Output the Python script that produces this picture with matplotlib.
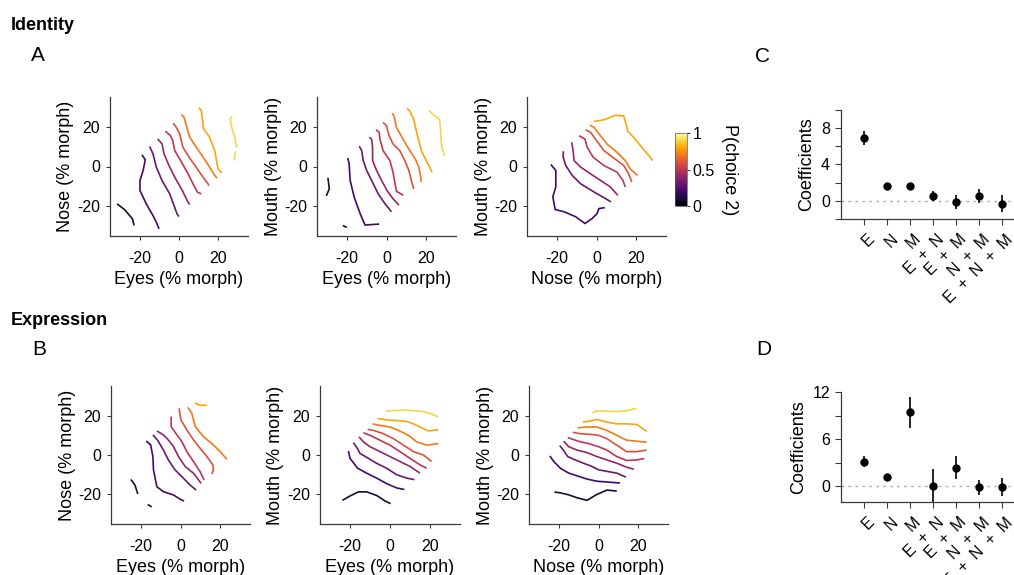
import numpy as np
import matplotlib
matplotlib.use("Agg")
import matplotlib.pyplot as plt
from matplotlib import cm
from matplotlib.colors import Normalize
from matplotlib.transforms import ScaledTranslation

plt.rcParams['font.family'] = ['Liberation Sans', 'DejaVu Sans']
plt.rcParams['axes.linewidth'] = 0.9
plt.rcParams['axes.unicode_minus'] = False

# ---------------- data ----------------
# Identity: Eyes vs Nose
A1_lev = [0.1, 0.2, 0.3, 0.4, 0.5, 0.6, 0.7, 0.8, 0.9, 0.9]
A1_x = [
    [-31.4, -27.5, -23.6, -22.8],
    [-18.8, -17.1, -18.2, -19.8, -19.8, -16.6, -13.2, -11.5, -10.1],
    [-14.9, -13.2, -11.5, -8.6, -4.7, -2.2, -1.0, 0.0],
    [-10.8, -8.6, -7.6, -5.1, -1.7, 1.7, 4.1, 5.4],
    [-6.9, -4.4, -3.2, -2.2, 0.8, 4.6, 7.1, 9.3, 11.3],
    [-3.0, -1.4, 0.3, 2.0, 5.1, 9.3, 12.2, 14.7, 15.2],
    [1.2, 2.5, 3.7, 5.4, 8.8, 12.2, 15.5, 18.1, 19.3],
    [10.1, 11.3, 12.5, 15.5, 18.1, 19.8, 21.8],
    [27.0, 26.0, 26.5, 28.2, 29.4],
    [28.7, 27.9],
]
A1_y = [
    [-18.8, -21.8, -26.4, -29.7],
    [5.9, 3.4, -2.0, -7.1, -12.1, -18.8, -24.7, -28.1, -31.4],
    [10.1, 6.4, -0.3, -7.1, -13.8, -20.5, -23.9, -25.2],
    [13.9, 11.4, 6.4, 0.5, -6.2, -12.1, -17.1, -19.2],
    [17.8, 15.6, 13.1, 8.1, 3.0, -3.7, -8.7, -12.9, -13.8],
    [21.8, 19.8, 16.5, 9.7, 4.7, -1.2, -5.4, -8.7, -9.6],
    [26.1, 24.9, 20.7, 14.8, 9.7, 4.7, -0.3, -4.5, -5.9],
    [29.6, 28.2, 19.0, 14.8, 8.1, -1.2, -3.2],
    [25.2, 24.0, 20.7, 14.8, 9.7],
    [7.7, 3.0],
]

# Identity: Eyes vs Mouth
A2_lev = [0.1, 0.1, 0.2, 0.3, 0.4, 0.5, 0.6, 0.7, 0.8, 0.9]
A2_x = [
    [-29.5, -28.8, -30.3],
    [-22.0, -20.0],
    [-19.5, -18.8, -18.3, -16.3, -13.3, -10.8, -8.3, -3.7],
    [-13.7, -12.5, -11.7, -10.0, -7.5, -4.2, -0.8, 2.5],
    [-8.7, -7.5, -7.0, -7.0, -5.0, -2.5, 0.5, 3.5, 6.3],
    [-5.3, -3.7, -3.3, -1.7, 1.7, 3.3, 4.2, 5.0, 8.5],
    [-1.7, 0.0, 1.3, 3.3, 6.7, 9.2, 11.3, 12.5, 13.7],
    [2.8, 3.8, 5.0, 8.3, 11.7, 14.5, 16.3, 17.2, 17.5],
    [10.3, 11.7, 13.7, 15.0, 17.5, 20.0, 22.5, 23.0],
    [21.3, 23.3, 26.7, 27.2, 27.5, 28.0, 29.3],
]
A2_y = [
    [-5.7, -11.2, -14.8],
    [-29.7, -30.7],
    [4.3, 1.3, -7.0, -15.3, -23.7, -29.5, -29.3, -29.0],
    [10.2, 8.0, 3.0, -2.0, -7.0, -13.7, -18.7, -22.8],
    [14.7, 13.8, 9.7, 3.0, -2.0, -7.0, -12.5, -16.5, -19.5],
    [18.5, 17.2, 13.8, 8.0, 3.0, -3.0, -8.0, -12.5, -14.5],
    [22.2, 20.5, 15.5, 11.3, 8.0, 3.0, -2.0, -7.0, -11.3],
    [26.8, 25.5, 19.7, 13.8, 8.0, 3.8, -0.3, -5.3, -7.8],
    [29.2, 28.0, 23.8, 18.0, 8.0, 3.0, -2.0, -2.8],
    [28.3, 26.3, 23.8, 18.8, 13.0, 8.8, 5.5],
]

# Identity: Nose vs Mouth
A3_lev = [0.2, 0.3, 0.4, 0.5, 0.6, 0.7, 0.8]
A3_x = [
    [-23.0, -20.5, -20.5, -22.0, -20.8, -16.3, -10.5, -5.8, -2.2, 0.3, 1.2, 4.2],
    [-16.7, -16.8, -15.5, -12.2, -8.0, -1.3, 3.7, 7.3],
    [-12.5, -11.8, -11.3, -8.0, -3.0, 2.0, 7.0, 10.7],
    [-8.8, -5.8, -4.7, -1.7, 3.7, 10.3, 13.3, 14.5],
    [-5.5, -3.0, -0.5, 3.7, 8.7, 13.7, 16.2, 17.8],
    [-3.3, -1.3, 2.0, 5.3, 10.3, 14.5, 17.0, 20.7],
    [-1.3, 3.7, 9.5, 13.7, 15.3, 15.8, 18.7, 22.8, 27.0, 28.2],
]
A3_y = [
    [1.0, -2.0, -10.3, -15.3, -21.7, -22.8, -25.3, -28.7, -26.2, -23.7, -21.2, -20.7],
    [7.7, 4.7, 0.5, -4.5, -8.7, -12.8, -15.7, -17.8],
    [12.2, 8.0, 3.0, -0.3, -3.7, -7.0, -10.3, -14.5],
    [15.5, 13.8, 9.7, 4.7, 0.5, -2.8, -7.0, -10.3],
    [18.5, 17.2, 13.8, 8.0, 4.3, 0.5, -3.7, -7.8],
    [20.8, 19.7, 15.5, 11.3, 7.2, 3.0, -1.2, -4.5],
    [22.7, 23.5, 25.8, 25.5, 19.7, 17.7, 14.7, 9.7, 4.7, 3.0],
]

# Expression: Eyes vs Nose
B1_lev = [0.1, 0.1, 0.2, 0.3, 0.4, 0.5, 0.6, 0.7, 0.8]
B1_x = [
    [-25.0, -22.9, -21.5],
    [-16.5, -14.5],
    [-17.3, -15.0, -13.9, -13.6, -11.9, -8.6, -3.5, -0.2, 1.8],
    [-13.9, -11.6, -8.6, -6.1, -2.7, 0.7, 4.9, 7.9],
    [-11.9, -8.6, -6.1, -3.5, -1.0, 2.4, 6.6, 10.4],
    [-4.7, -4.7, -1.8, 0.7, 3.2, 6.6, 9.9, 11.9],
    [-0.7, 0.2, 3.2, 6.6, 9.9, 13.3, 16.3, 16.6, 15.8],
    [3.7, 5.7, 7.4, 11.6, 16.6, 20.8, 23.4],
    [7.4, 9.9, 13.3],
]
B1_y = [
    [-12.4, -15.3, -19.8],
    [-25.1, -26.3],
    [7.1, 5.1, -0.8, -7.6, -16.1, -18.6, -20.3, -22.4, -23.4],
    [10.2, 7.6, 2.5, -2.5, -7.6, -11.0, -15.3, -17.8],
    [12.2, 10.2, 7.6, 4.2, -0.8, -5.9, -9.3, -14.4],
    [19.5, 14.4, 10.2, 6.8, 1.7, -3.4, -8.5, -12.7],
    [23.7, 17.8, 12.7, 7.6, 3.4, -0.8, -5.1, -7.6, -9.7],
    [24.2, 21.2, 14.4, 9.3, 5.1, 0.8, -2.2],
    [26.4, 25.2, 25.2],
]

# Expression: Eyes vs Mouth
B2_lev = [0.1, 0.2, 0.3, 0.4, 0.5, 0.6, 0.7, 0.8, 0.9]
B2_x = [
    [-23.8, -20.0, -15.8, -11.7, -6.7, -2.5, 0.3],
    [-20.8, -20.0, -16.2, -11.7, -6.7, -1.7, 3.3, 7.2],
    [-18.3, -16.3, -15.0, -10.8, -6.7, -1.7, 3.3, 8.3, 12.2],
    [-15.5, -13.3, -10.0, -5.0, 0.0, 5.0, 10.0, 15.0],
    [-13.3, -10.0, -5.0, 0.0, 5.0, 10.0, 15.0, 18.3],
    [-11.2, -8.3, -3.3, 1.7, 6.7, 11.7, 16.7, 20.8],
    [-8.8, -5.0, 0.0, 4.2, 9.2, 13.3, 18.3, 24.2],
    [-6.3, -1.7, 3.3, 8.3, 11.7, 15.0, 19.2, 24.2],
    [-2.2, 1.7, 6.7, 11.7, 16.7, 20.8, 24.2],
]
B2_y = [
    [-23.0, -20.8, -18.7, -18.7, -20.5, -23.3, -24.7],
    [2.0, -1.7, -6.7, -9.2, -11.7, -14.5, -16.7, -17.5],
    [6.3, 3.3, 0.8, -1.7, -4.2, -6.7, -10.0, -11.7, -12.5],
    [9.2, 6.7, 4.2, 1.7, -0.8, -3.3, -5.8, -9.2],
    [11.3, 10.0, 7.5, 5.0, 1.7, -1.7, -5.0, -6.7],
    [13.0, 12.5, 10.8, 8.3, 5.0, 1.7, 0.0, -3.3],
    [15.8, 15.0, 14.2, 12.5, 10.0, 6.7, 5.0, 5.8],
    [18.5, 17.8, 17.5, 17.0, 15.8, 14.2, 12.2, 12.8],
    [22.3, 22.5, 22.8, 22.5, 22.0, 20.8, 19.2],
]

# Expression: Nose vs Mouth
B3_lev = [0.1, 0.2, 0.3, 0.4, 0.5, 0.6, 0.7, 0.8, 0.9]
B3_x = [
    [-22.2, -19.2, -15.0, -10.8, -5.8, -0.8, 4.2, 9.2],
    [-24.5, -22.5, -19.2, -15.0, -10.0, -5.8, -0.8, 4.2, 10.8],
    [-19.5, -17.5, -15.5, -11.7, -7.5, -3.3, 0.0, 4.2, 9.2, 13.8],
    [-17.5, -15.0, -10.8, -5.8, -0.8, 4.2, 9.2, 14.2, 17.8],
    [-15.5, -12.5, -9.2, -5.0, 0.0, 4.2, 9.2, 14.2, 19.2, 23.0],
    [-13.0, -9.2, -4.2, 0.0, 4.2, 9.2, 14.2, 19.2, 24.2],
    [-10.5, -5.8, -0.8, 4.2, 9.2, 14.2, 19.2, 24.2],
    [-7.8, -4.2, -0.8, 4.2, 9.2, 14.2, 19.2, 24.2],
    [-3.0, -0.8, 4.2, 9.2, 14.2, 19.2],
]
B3_y = [
    [-18.8, -19.2, -20.2, -21.7, -23.0, -20.0, -17.8, -18.3],
    [-0.5, -3.3, -6.7, -9.2, -10.8, -12.2, -13.3, -13.7, -14.2],
    [4.8, 2.2, -0.8, -2.5, -4.2, -5.8, -7.5, -8.3, -9.2, -11.2],
    [7.0, 4.2, 2.5, 1.2, -0.8, -2.5, -4.2, -6.2, -7.2],
    [8.8, 7.8, 6.7, 5.8, 4.2, 2.5, -0.8, -2.8, -2.5, -1.8],
    [11.5, 10.8, 10.5, 10.0, 8.3, 5.0, 1.7, 1.7, 2.5],
    [13.8, 14.2, 14.2, 12.5, 10.0, 7.5, 7.0, 6.5],
    [16.7, 17.2, 18.0, 16.7, 15.8, 15.8, 15.5, 12.0],
    [21.3, 22.5, 22.2, 22.0, 22.5, 23.7],
]

# Regression coefficients
TERMS = ["E", "N", "M", "E  +  N", "E  +  M", "N  +  M", "E  +  N  +  M"]
C_coef = [6.9, 1.65, 1.6, 0.48, -0.1, 0.55, -0.37]
C_lo = [6.17, 1.45, 1.45, -0.07, -0.88, -0.29, -1.28]
C_hi = [7.74, 1.85, 1.78, 1.03, 0.66, 1.28, 0.59]
D_coef = [3.1, 1.15, 9.4, 0.0, 2.35, -0.1, -0.1]
D_lo = [2.48, 0.95, 7.39, -2.13, 0.9, -1.11, -1.24]
D_hi = [3.84, 1.35, 11.36, 2.18, 3.84, 0.85, 1.02]

# ---------------- layout ----------------
W, H = 1014, 575
fig = plt.figure(figsize=(W / 100, H / 100), dpi=100)

def px_axes(l, t, r, b):
    return fig.add_axes([l / W, 1 - b / H, (r - l) / W, (b - t) / H])

SPINE = '#3a3a3a'
cmap = cm.inferno
norm = Normalize(0, 1)
TICK_FS = 11.5
LABEL_FS = 13

def style(ax):
    for s in ('top', 'right'):
        ax.spines[s].set_visible(False)
    for s in ('left', 'bottom'):
        ax.spines[s].set_color(SPINE)
    ax.tick_params(length=3, width=0.8, color=SPINE, labelsize=TICK_FS)
    ax.tick_params(axis='x', pad=7.5)
    ax.tick_params(axis='y', pad=4)

def contour_panel(box, xs, ys, levs, xlabel, ylabel):
    ax = px_axes(*box)
    for x, y, lv in zip(xs, ys, levs):
        ax.plot(x, y, color=cmap(norm(lv)), lw=1.2, solid_capstyle='butt')
    ax.set_xlim(-35, 35)
    ax.set_ylim(-35, 35)
    ax.set_xticks([-20, 0, 20])
    ax.set_yticks([-20, 0, 20])
    style(ax)
    ax.set_xlabel(xlabel, fontsize=LABEL_FS, labelpad=4)
    ax.set_ylabel(ylabel, fontsize=LABEL_FS, labelpad=2)
    return ax

contour_panel((110, 97, 248, 236), A1_x, A1_y, A1_lev, "Eyes (% morph)", "Nose (% morph)")
contour_panel((317, 97, 456, 236), A2_x, A2_y, A2_lev, "Eyes (% morph)", "Mouth (% morph)")
contour_panel((527, 97, 666, 236), A3_x, A3_y, A3_lev, "Nose (% morph)", "Mouth (% morph)")
contour_panel((111, 386, 250, 524), B1_x, B1_y, B1_lev, "Eyes (% morph)", "Nose (% morph)")
contour_panel((320, 386, 460, 524), B2_x, B2_y, B2_lev, "Eyes (% morph)", "Mouth (% morph)")
contour_panel((529, 386, 668, 524), B3_x, B3_y, B3_lev, "Nose (% morph)", "Mouth (% morph)")

# colour bar
cax = px_axes(675, 133, 687, 206)
sm = cm.ScalarMappable(norm=norm, cmap=cmap)
cb = fig.colorbar(sm, cax=cax, ticks=[0, 0.5, 1])
cb.ax.set_yticklabels(["0", "0.5", "1"])
cb.outline.set_linewidth(0.5)
cb.outline.set_edgecolor('#555555')
cb.ax.tick_params(length=2.5, width=0.8, color=SPINE, labelsize=TICK_FS, pad=1.5)
cb.set_label("P(choice 2)", rotation=270, fontsize=LABEL_FS, labelpad=17)

def coef_panel(box, coef, lo, hi, ylim, yticks, ylabels):
    ax = px_axes(*box)
    pos = np.arange(1, len(TERMS) + 1)
    coef = np.asarray(coef)
    err = [coef - np.asarray(lo), np.asarray(hi) - coef]
    ax.axhline(0, color='#b0b0b0', lw=1.0, ls=(0, (2, 3)), zorder=0)
    ax.errorbar(pos, coef, yerr=err, fmt='o', color='black', ms=5,
                elinewidth=1.2, capsize=0)
    ax.set_xlim(0, (W - box[0]) / 23.0)
    ax.set_ylim(*ylim)
    ax.set_xticks(pos)
    ax.set_yticks(yticks)
    ax.set_yticklabels(ylabels)
    style(ax)
    ax.tick_params(axis='x', labelsize=11.5, length=4, pad=5)
    ax.tick_params(axis='y', length=4, pad=4)
    ax.set_xticklabels(TERMS, rotation=45, ha='right', va='top',
                       rotation_mode='anchor')
    # nudge the slanted term labels so each one hangs just right of its tick
    shift = ScaledTranslation(3 / 100, 0, fig.dpi_scale_trans)
    for lab in ax.get_xticklabels():
        lab.set_transform(lab.get_transform() + shift)
    ax.set_ylabel("Coefficients", fontsize=LABEL_FS, labelpad=4)
    return ax

coef_panel((841, 110, 1014, 219), C_coef, C_lo, C_hi, (-2, 10),
           [-2, 0, 2, 4, 6, 8, 10], ["", "0", "", "4", "", "8", ""])
coef_panel((841, 392, 1014, 502), D_coef, D_lo, D_hi, (-2, 12),
           [0, 3, 6, 9, 12], ["0", "", "6", "", "12"])

# headings and panel letters
fig.text(11 / W, 1 - 30.5 / H, "Identity", fontsize=13, fontweight='bold', va='baseline')
fig.text(11 / W, 1 - 325 / H, "Expression", fontsize=13, fontweight='bold', va='baseline')
for letter, (x, y) in {"A": (30.5, 61), "B": (32, 355), "C": (755.5, 61.5), "D": (756, 355)}.items():
    fig.text(x / W, 1 - y / H, letter, fontsize=15, va='baseline')

fig.savefig("out.png", dpi=100)
